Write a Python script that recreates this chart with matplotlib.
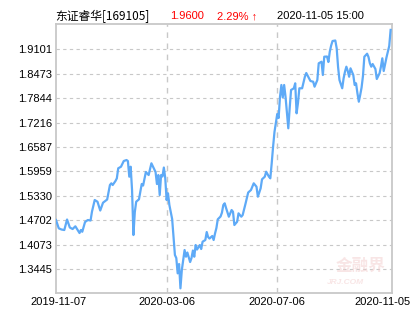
import matplotlib
matplotlib.use("Agg")
import matplotlib.pyplot as plt
from matplotlib.transforms import ScaledTranslation

# ---- data ----
day_idx = [0, 2, 4, 6, 8, 10, 12, 14, 17, 18, 19, 21, 23, 25, 26, 28, 30, 32, 34, 37,
           39, 40, 41, 43, 44, 45, 47, 49, 51, 52, 53, 54, 55, 56, 57, 58, 60, 62, 63, 65,
           67, 69, 72, 73, 74, 75, 76, 77, 78, 79, 80, 81, 82, 84, 86, 87, 88, 89, 90, 91,
           93, 94, 95, 97, 98, 99, 100, 101, 102, 104, 105, 106, 108, 109, 110, 111, 113, 114, 115, 116,
           117, 119, 120, 121, 122, 123, 125, 127, 128, 129, 131, 132, 134, 135, 137, 139, 141, 143, 145, 146,
           148, 149, 151, 152, 154, 155, 156, 157, 158, 160, 161, 162, 163, 164, 165, 166, 168, 169, 170, 172,
           173, 174, 175, 176, 178, 180, 181, 184, 186, 187, 189, 190, 192, 193, 194, 196, 197, 198, 199, 200,
           202, 203, 204, 205, 207, 208, 209, 210, 211, 212, 213, 215, 216, 217, 218, 219, 220, 221, 222, 223,
           225, 226, 227, 228, 229, 231, 232, 234, 235, 236, 237, 239, 240, 241, 242]
nav = [1.4706, 1.4492, 1.4461, 1.4448, 1.4719, 1.4513, 1.4474, 1.4544, 1.4371, 1.4448,
       1.4404, 1.4654, 1.4706, 1.4693, 1.4919, 1.5221, 1.5177, 1.4950, 1.5151, 1.5234,
       1.5607, 1.5651, 1.5607, 1.5710, 1.5779, 1.6037, 1.6078, 1.6225, 1.6250, 1.6225,
       1.5821, 1.6078, 1.5478, 1.4319, 1.4912, 1.5177, 1.5239, 1.5633, 1.5594, 1.5942,
       1.5864, 1.6166, 1.5942, 1.5633, 1.5864, 1.5349, 1.5864, 1.5826, 1.6057, 1.5787,
       1.5221, 1.5393, 1.5092, 1.4731, 1.3805, 1.3727, 1.3333, 1.3573, 1.2947, 1.3418,
       1.3933, 1.3761, 1.3869, 1.3624, 1.3727, 1.3920, 1.3761, 1.4062, 1.3946, 1.4062,
       1.3959, 1.4147, 1.4191, 1.4397, 1.4268, 1.4229, 1.4294, 1.4191, 1.4358, 1.4500,
       1.4724, 1.4796, 1.4894, 1.5092, 1.5136, 1.5015, 1.4791, 1.4963, 1.4919, 1.4577,
       1.4662, 1.4878, 1.4791, 1.4834, 1.5118, 1.5414, 1.5478, 1.5651, 1.5563, 1.5306,
       1.5522, 1.5754, 1.5821, 1.5949, 1.5821, 1.5779, 1.6166, 1.6593, 1.6971, 1.7435,
       1.7332, 1.7880, 1.8182, 1.7860, 1.8182, 1.7880, 1.7067, 1.7589, 1.8053, 1.8097,
       1.8225, 1.7453, 1.7718, 1.8097, 1.8097, 1.8395, 1.8490, 1.8285, 1.8266, 1.8138,
       1.8310, 1.8740, 1.8781, 1.8439, 1.8910, 1.8915, 1.8774, 1.9039, 1.9199, 1.9314,
       1.9327, 1.9126, 1.8645, 1.8310, 1.8097, 1.8354, 1.8524, 1.8653, 1.8542, 1.8395,
       1.8611, 1.8439, 1.8182, 1.8225, 1.7968, 1.7752, 1.7924, 1.8117, 1.8413, 1.8910,
       1.8987, 1.8902, 1.8740, 1.8653, 1.8722, 1.8593, 1.8336, 1.8483, 1.8653, 1.8869,
       1.8542, 1.8890, 1.9039, 1.9186, 1.9600]

ytick_vals = [1.3445, 1.4073, 1.4702, 1.5330, 1.5959, 1.6587, 1.7216, 1.7844, 1.8473, 1.9101]
xtick_pos = [0, 80, 160, 243]
xtick_labels = ["2019-11-07", "2020-03-06", "2020-07-06", "2020-11-05"]

fund_name = "东证睿华[169105]"
last_value = "1.9600"
change_pct = "2.29% ↑"
timestamp = "2020-11-05 15:00"

# ---- figure ----
plt.rcParams['font.family'] = ['Liberation Sans', 'Noto Sans CJK SC', 'DejaVu Sans']
fig = plt.figure(figsize=(4.15, 3.30), dpi=100)
ax = fig.add_axes([56 / 415, 1 - 293 / 330, 336 / 415, 269 / 330])

ax.plot(day_idx, nav, color='#5eaaf7', lw=1.6, solid_joinstyle='round', zorder=3)

ax.set_xlim(0, 243)
ax.set_ylim(1.2827, 1.9752)

ax.set_yticks(ytick_vals)
ax.set_yticklabels([f"{v:.4f}" for v in ytick_vals])
ax.set_xticks(xtick_pos)
ax.set_xticklabels(xtick_labels)
ax.tick_params(length=0, labelsize=8, pad=3, colors='black')

for v in ytick_vals:
    ax.axhline(v, color='#c8c8c8', lw=0.8, ls=(0, (3, 3)), zorder=1)
for xp in xtick_pos[1:-1]:
    ax.axvline(xp, color='#c8c8c8', lw=1.0, ls=(0, (4, 4)), zorder=1)

for s in ax.spines.values():
    s.set_color('#c8c8c8')
    s.set_linewidth(1.3)

# shift edge x labels so they fit inside the image
lbls = ax.get_xticklabels()
lbls[-1].set_transform(lbls[-1].get_transform() + ScaledTranslation(-10 / 100, 0, fig.dpi_scale_trans))
lbls[0].set_transform(lbls[0].get_transform() + ScaledTranslation(2 / 100, 0, fig.dpi_scale_trans))

# header
ty = 1 - 16 / 330
fig.text(55 / 415, ty, fund_name, fontsize=8.5, va='center', ha='left', color='black',
         family=['Noto Sans CJK SC', 'DejaVu Sans'])
fig.text(170 / 415, ty, last_value, fontsize=8, va='center', ha='left', color='#ff0000')
fig.text(217 / 415, ty, change_pct, fontsize=8, va='center', ha='left', color='#ff0000',
         family=['Liberation Sans', 'DejaVu Sans'])
fig.text(277 / 415, ty, timestamp, fontsize=8, va='center', ha='left', color='black')

# watermark
fig.text(361 / 415, 1 - 266 / 330, "金融界", fontsize=12, fontweight='bold', ha='center', va='center',
         color='#f2cccc', alpha=0.5, family=['Noto Sans CJK SC'])
fig.text(345 / 415, 1 - 283 / 330, "JRJ.COM", fontsize=6, style='italic', fontweight='bold', ha='center',
         va='center', color='#f2cccc', alpha=0.5)

fig.savefig("out.png", dpi=100)
